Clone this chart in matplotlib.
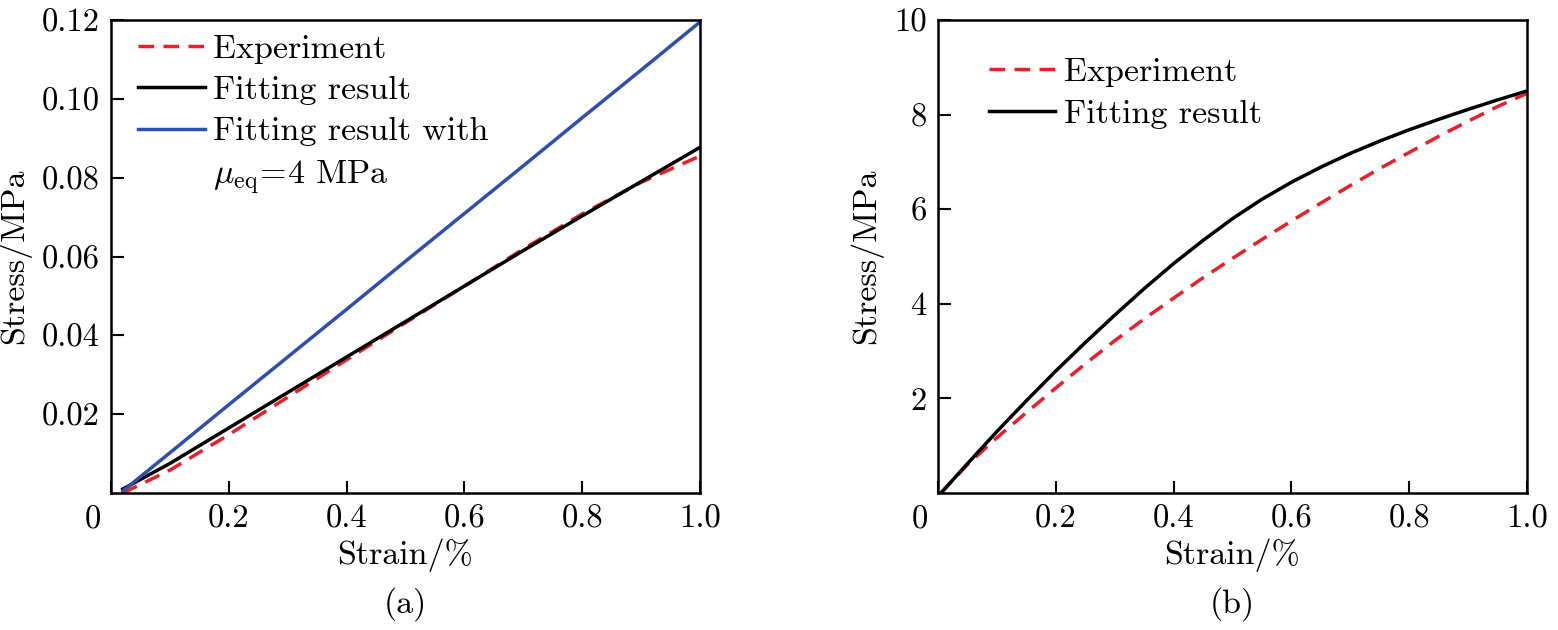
import matplotlib
matplotlib.use("Agg")
import numpy as np
from matplotlib import pyplot as plt

plt.rcParams['font.family'] = ['cmr10', 'DejaVu Serif']
plt.rcParams['mathtext.fontset'] = 'cm'
plt.rcParams['axes.unicode_minus'] = False

# (a) small strain range
strain_a = [0.02, 0.1, 0.2, 0.3, 0.4, 0.5, 0.6, 0.7, 0.8, 0.9, 1.0]
exp_a = [0.0, 0.0058, 0.0148, 0.0243, 0.0338, 0.0432, 0.0525, 0.0619, 0.0708, 0.0788, 0.0855]
fit_a = [0.001, 0.0075, 0.0165, 0.0255, 0.0345, 0.0435, 0.0525, 0.0615, 0.0703, 0.079, 0.0877]
fit4_a = [0.0005, 0.0102, 0.0224, 0.0345, 0.0466, 0.0588, 0.0709, 0.083, 0.0952, 0.1073, 0.1195]

# (b)
strain_b = [0.005, 0.05, 0.1, 0.15, 0.2, 0.25, 0.3, 0.35, 0.4, 0.45, 0.5,
            0.55, 0.6, 0.65, 0.7, 0.75, 0.8, 0.85, 0.9, 0.95, 1.0]
exp_b = [0.0, 0.6, 1.17, 1.7, 2.22, 2.73, 3.22, 3.68, 4.12, 4.55, 4.96,
         5.36, 5.75, 6.13, 6.5, 6.86, 7.2, 7.54, 7.86, 8.17, 8.45]
fit_b = [0.0, 0.62, 1.3, 1.95, 2.58, 3.18, 3.76, 4.32, 4.85, 5.34, 5.8,
         6.21, 6.57, 6.89, 7.18, 7.44, 7.68, 7.9, 8.11, 8.31, 8.5]

xticks = [0, 0.2, 0.4, 0.6, 0.8, 1.0]
xticklabels = ['', '0.2', '0.4', '0.6', '0.8', '1.0']
yticks_a = [0.02, 0.04, 0.06, 0.08, 0.10, 0.12]
yticklabels_a = ['0.02', '0.04', '0.06', '0.08', '0.10', '0.12']
yticks_b = [2, 4, 6, 8, 10]
yticklabels_b = ['2', '4', '6', '8', '10']

red = '#e8202a'
blue = '#2e4fb0'
fs = 24.5
tfs = 23.5
dash = (0, (4.5, 2.7))

fig = plt.figure(figsize=(15.58, 6.3), dpi=100)
ax1 = fig.add_axes([111/1558, 137/630, 589/1558, 473/630])
ax2 = fig.add_axes([938/1558, 137/630, 589/1558, 473/630])

ax1.plot(strain_a, exp_a, color=red, lw=2.5, ls=dash, label='Experiment')
ax1.plot(strain_a, fit_a, color='black', lw=2.5, label='Fitting result')
ax1.plot(strain_a, fit4_a, color=blue, lw=2.5, label='Fitting result with')
ax1.plot([], [], color='none', label=r'$\mu_{\rm eq}\!=\!4$ MPa')
ax1.set_ylim(0, 0.12)
ax1.set_yticks(yticks_a)
ax1.set_yticklabels(yticklabels_a)

ax2.plot(strain_b, exp_b, color=red, lw=2.5, ls=dash, label='Experiment')
ax2.plot(strain_b, fit_b, color='black', lw=2.5, label='Fitting result')
ax2.set_ylim(0, 10)
ax2.set_yticks(yticks_b)
ax2.set_yticklabels(yticklabels_b)

for ax, tag in [(ax1, '(a)'), (ax2, '(b)')]:
    ax.set_xlim(0, 1.0)
    ax.set_xticks(xticks)
    ax.set_xticklabels(xticklabels)
    ax.tick_params(direction='in', length=9, width=1.5, labelsize=tfs, pad=8)
    for s in ax.spines.values():
        s.set_linewidth(1.8)
    ax.set_xlabel('Strain/%', fontsize=fs, labelpad=4)
    ax.set_ylabel('Stress/MPa', fontsize=fs, labelpad=8)
    ax.annotate('0', xy=(0, 0), xycoords='axes fraction', xytext=(-7, -9),
                textcoords='offset points', ha='right', va='top', fontsize=tfs)
    ax.annotate(tag, xy=(0.5, 0), xycoords='axes fraction', xytext=(0, -80),
                textcoords='offset points', ha='center', va='center', fontsize=fs)

ax1.legend(loc='upper left', frameon=False, fontsize=fs, handlelength=1.95,
           handletextpad=0.25, labelspacing=0.34, borderaxespad=0.0,
           borderpad=0.2, bbox_to_anchor=(0.035, 0.985))
ax2.legend(loc='upper left', frameon=False, fontsize=fs, handlelength=1.95,
           handletextpad=0.25, labelspacing=0.34, borderaxespad=0.0,
           borderpad=0.2, bbox_to_anchor=(0.075, 0.935))

fig.savefig('out.png', dpi=100)
